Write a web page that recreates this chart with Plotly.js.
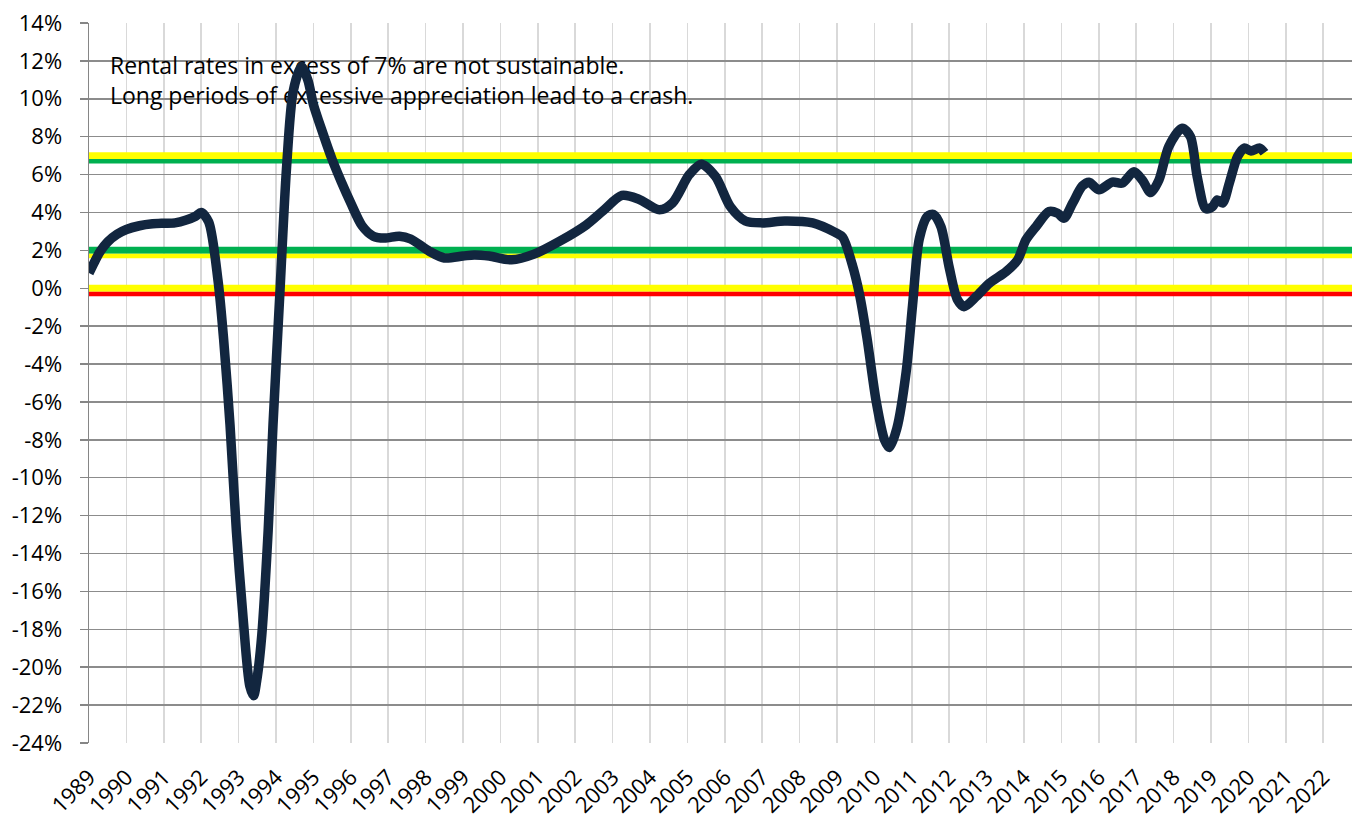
<!DOCTYPE html>
<html>
<head>
<meta charset="utf-8">
<script src="https://cdn.plot.ly/plotly-3.0.1.min.js"></script>
<style>html,body{margin:0;padding:0;background:#fff;}#chart{width:1352px;height:820px;}</style>
</head>
<body>
<div id="chart"></div>
<script>
// Year (decimal) and annual rent growth (%)
const years = [
  1989.00,1989.15,1989.30,1989.50,1989.75,1990.00,1990.35,1990.70,1991.00,1991.30,1991.60,1991.85,1992.00,
  1992.20,1992.45,1992.60,1992.77,1992.94,1993.12,1993.30,1993.40,1993.50,1993.62,1993.79,1993.92,
  1994.10,1994.28,1994.46,1994.68,1994.85,1995.00,1995.25,1995.50,1995.75,1996.00,1996.30,1996.60,1996.90,
  1997.30,1997.60,1998.10,1998.50,1999.00,1999.30,1999.70,2000.30,2000.90,2001.60,2002.30,2002.75,
  2003.25,2003.70,2004.25,2004.60,2005.05,2005.37,2005.75,2006.15,2006.55,2007.00,2007.60,2008.35,
  2008.95,2009.15,2009.40,2009.60,2009.80,2010.05,2010.27,2010.40,2010.60,2010.85,2011.02,2011.20,
  2011.42,2011.58,2011.78,2012.00,2012.22,2012.40,2012.72,2013.07,2013.52,2013.83,2014.05,2014.32,
  2014.67,2014.90,2015.07,2015.30,2015.56,2015.74,2016.00,2016.36,2016.63,2016.94,2017.16,2017.39,
  2017.61,2017.87,2018.23,2018.45,2018.63,2018.86,2019.04,2019.17,2019.31,2019.49,2019.71,2019.89,
  2020.07,2020.30,2020.43
];
const rentGrowth = [
  0.8,1.4,1.95,2.45,2.85,3.1,3.3,3.4,3.43,3.45,3.6,3.8,4.0,
  3.5,0.4,-2.7,-7.2,-12.8,-17.4,-21.0,-21.5,-20.5,-18.3,-12.8,-7.2,
  -0.4,6.3,10.4,11.7,11.0,9.7,8.2,6.8,5.6,4.5,3.3,2.75,2.65,
  2.75,2.6,1.95,1.6,1.7,1.76,1.7,1.5,1.8,2.5,3.35,4.1,
  4.9,4.7,4.14,4.5,6.0,6.55,5.9,4.3,3.55,3.45,3.55,3.45,
  2.95,2.7,1.3,-0.3,-2.6,-6.0,-8.0,-8.4,-7.4,-4.4,-0.9,2.6,
  3.8,3.9,3.25,1.1,-0.6,-0.97,-0.44,0.26,0.88,1.5,2.55,3.25,
  4.05,3.96,3.7,4.49,5.4,5.6,5.2,5.6,5.55,6.15,5.72,5.05,
  5.72,7.48,8.45,8.0,5.9,4.2,4.31,4.66,4.5,5.55,6.95,7.4,
  7.25,7.4,7.15
];
// Threshold bands (%)
const bandLevels = [7, 6.7, 2, 1.7, 0, -0.3];
const bandColors = ['#ffff00', '#00b050', '#00b050', '#ffff00', '#ffff00', '#ff0000'];
const bandWidths = [7, 4.5, 7, 4.5, 7, 4.5];
// Tick labels
const xTickYears = [];
for (let y = 1989; y <= 2022; y++) xTickYears.push(y);
const yTickVals = [];
for (let v = -24; v <= 14; v += 2) yTickVals.push(v);
const noteLines = ['Rental rates in excess of 7% are not sustainable.', 'Long periods of excessive appreciation lead to a crash.'];
const noteY = [11.62, 10.05];

const xRange = [1989, 2022.77];
const traces = [];
bandLevels.forEach((lv, i) => {
  traces.push({x: xRange, y: [lv, lv], mode: 'lines', line: {color: bandColors[i], width: bandWidths[i]}, hoverinfo: 'skip', showlegend: false});
});
traces.push({
  x: noteY.map(() => 1989.56), y: noteY, mode: 'text', text: noteLines, textposition: 'middle right',
  textfont: {family: 'Open Sans, sans-serif', size: 23, color: '#000'}, hoverinfo: 'skip', showlegend: false
});
traces.push({
  x: years, y: rentGrowth, mode: 'lines', line: {color: '#12263f', width: 9.5, shape: 'spline', smoothing: 0.8},
  showlegend: false
});

const layout = {
  width: 1352, height: 820,
  margin: {l: 89, r: 0, t: 23, b: 77},
  paper_bgcolor: '#fff', plot_bgcolor: '#fff',
  showlegend: false,
  xaxis: {
    range: xRange, tickmode: 'array', tickvals: xTickYears, ticktext: xTickYears.map(String),
    tickangle: -45, ticks: '', showgrid: true, gridcolor: '#d9d9d9', gridwidth: 1.5,
    zeroline: false, showline: false, ticklabelstandoff: 16,
    tickfont: {family: 'Open Sans, sans-serif', size: 22, color: '#000'}
  },
  yaxis: {
    range: [-24, 14], tickmode: 'array', tickvals: yTickVals, ticktext: yTickVals.map(v => v + '%'),
    ticks: 'outside', ticklen: 8, tickcolor: '#868686', tickwidth: 1.5,
    showgrid: true, gridcolor: '#8c8c8c', gridwidth: 1.5, zeroline: false,
    showline: true, linecolor: '#868686', linewidth: 1.5, ticklabelstandoff: 13,
    tickfont: {family: 'Open Sans, sans-serif', size: 22, color: '#000'}
  },
  font: {family: 'Open Sans, sans-serif'}
};
Plotly.newPlot('chart', traces, layout, {displayModeBar: false, staticPlot: true});
</script>
</body>
</html>
